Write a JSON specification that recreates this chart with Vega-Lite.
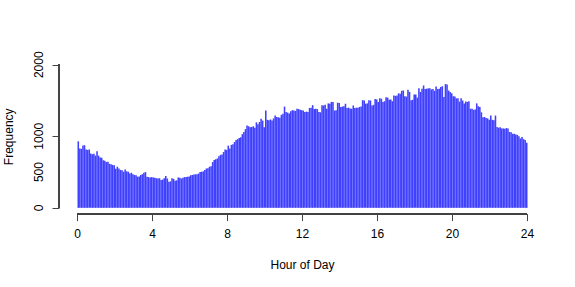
{
"$schema": "https://vega.github.io/schema/vega-lite/v6.json",
"width": 486, "height": 154.6,
"autosize": {"type": "none"},
"padding": {"left": 59, "top": 59, "right": 30, "bottom": 73.4},
"background": "white",
"config": {"view": {"stroke": null}, "font": "Liberation Sans"},
"data": {"values": [
{"m":0,"n":930},{"m":5,"n":830},{"m":10,"n":825},{"m":15,"n":870},{"m":20,"n":875},{"m":25,"n":815},{"m":30,"n":810},{"m":35,"n":815},{"m":40,"n":760},{"m":45,"n":750},{"m":50,"n":755},{"m":55,"n":730},
{"m":60,"n":790},{"m":65,"n":730},{"m":70,"n":705},{"m":75,"n":700},{"m":80,"n":665},{"m":85,"n":660},{"m":90,"n":640},{"m":95,"n":645},{"m":100,"n":615},{"m":105,"n":610},{"m":110,"n":600},{"m":115,"n":595},
{"m":120,"n":545},{"m":125,"n":575},{"m":130,"n":550},{"m":135,"n":530},{"m":140,"n":525},{"m":145,"n":505},{"m":150,"n":535},{"m":155,"n":510},{"m":160,"n":505},{"m":165,"n":480},{"m":170,"n":490},{"m":175,"n":470},
{"m":180,"n":460},{"m":185,"n":455},{"m":190,"n":435},{"m":195,"n":440},{"m":200,"n":460},{"m":205,"n":470},{"m":210,"n":490},{"m":215,"n":500},{"m":220,"n":435},{"m":225,"n":430},{"m":230,"n":425},{"m":235,"n":430},
{"m":240,"n":425},{"m":245,"n":420},{"m":250,"n":415},{"m":255,"n":410},{"m":260,"n":415},{"m":265,"n":390},{"m":270,"n":395},{"m":275,"n":415},{"m":280,"n":445},{"m":285,"n":410},{"m":290,"n":365},{"m":295,"n":370},
{"m":300,"n":415},{"m":305,"n":405},{"m":310,"n":380},{"m":315,"n":385},{"m":320,"n":425},{"m":325,"n":420},{"m":330,"n":410},{"m":335,"n":420},{"m":340,"n":430},{"m":345,"n":430},{"m":350,"n":435},{"m":355,"n":440},
{"m":360,"n":455},{"m":365,"n":460},{"m":370,"n":465},{"m":375,"n":470},{"m":380,"n":470},{"m":385,"n":480},{"m":390,"n":500},{"m":395,"n":505},{"m":400,"n":510},{"m":405,"n":530},{"m":410,"n":550},{"m":415,"n":555},
{"m":420,"n":575},{"m":425,"n":580},{"m":430,"n":640},{"m":435,"n":670},{"m":440,"n":680},{"m":445,"n":690},{"m":450,"n":720},{"m":455,"n":740},{"m":460,"n":745},{"m":465,"n":780},{"m":470,"n":815},{"m":475,"n":810},
{"m":480,"n":870},{"m":485,"n":830},{"m":490,"n":880},{"m":495,"n":890},{"m":500,"n":920},{"m":505,"n":950},{"m":510,"n":960},{"m":515,"n":975},{"m":520,"n":985},{"m":525,"n":1030},{"m":530,"n":1060},{"m":535,"n":1100},
{"m":540,"n":1150},{"m":545,"n":1140},{"m":550,"n":1125},{"m":555,"n":1130},{"m":560,"n":1140},{"m":565,"n":1120},{"m":570,"n":1195},{"m":575,"n":1170},{"m":580,"n":1200},{"m":585,"n":1245},{"m":590,"n":1220},{"m":595,"n":1125},
{"m":600,"n":1360},{"m":605,"n":1230},{"m":610,"n":1225},{"m":615,"n":1235},{"m":620,"n":1220},{"m":625,"n":1250},{"m":630,"n":1290},{"m":635,"n":1270},{"m":640,"n":1265},{"m":645,"n":1260},{"m":650,"n":1300},{"m":655,"n":1315},
{"m":660,"n":1415},{"m":665,"n":1340},{"m":670,"n":1330},{"m":675,"n":1320},{"m":680,"n":1350},{"m":685,"n":1365},{"m":690,"n":1360},{"m":695,"n":1355},{"m":700,"n":1385},{"m":705,"n":1380},{"m":710,"n":1370},{"m":715,"n":1365},
{"m":720,"n":1360},{"m":725,"n":1340},{"m":730,"n":1345},{"m":735,"n":1340},{"m":740,"n":1395},{"m":745,"n":1400},{"m":750,"n":1435},{"m":755,"n":1380},{"m":760,"n":1385},{"m":765,"n":1380},{"m":770,"n":1340},{"m":775,"n":1335},
{"m":780,"n":1435},{"m":785,"n":1430},{"m":790,"n":1440},{"m":795,"n":1385},{"m":800,"n":1460},{"m":805,"n":1455},{"m":810,"n":1480},{"m":815,"n":1480},{"m":820,"n":1360},{"m":825,"n":1365},{"m":830,"n":1470},{"m":835,"n":1465},
{"m":840,"n":1410},{"m":845,"n":1415},{"m":850,"n":1420},{"m":855,"n":1455},{"m":860,"n":1395},{"m":865,"n":1400},{"m":870,"n":1390},{"m":875,"n":1385},{"m":880,"n":1430},{"m":885,"n":1395},{"m":890,"n":1400},{"m":895,"n":1400},
{"m":900,"n":1410},{"m":905,"n":1415},{"m":910,"n":1505},{"m":915,"n":1500},{"m":920,"n":1455},{"m":925,"n":1460},{"m":930,"n":1505},{"m":935,"n":1500},{"m":940,"n":1430},{"m":945,"n":1440},{"m":950,"n":1520},{"m":955,"n":1515},
{"m":960,"n":1480},{"m":965,"n":1530},{"m":970,"n":1525},{"m":975,"n":1480},{"m":980,"n":1490},{"m":985,"n":1545},{"m":990,"n":1540},{"m":995,"n":1510},{"m":1000,"n":1515},{"m":1005,"n":1490},{"m":1010,"n":1570},{"m":1015,"n":1565},
{"m":1020,"n":1570},{"m":1025,"n":1600},{"m":1030,"n":1595},{"m":1035,"n":1635},{"m":1040,"n":1640},{"m":1045,"n":1560},{"m":1050,"n":1555},{"m":1055,"n":1650},{"m":1060,"n":1620},{"m":1065,"n":1505},{"m":1070,"n":1510},{"m":1075,"n":1585},
{"m":1080,"n":1585},{"m":1085,"n":1540},{"m":1090,"n":1670},{"m":1095,"n":1620},{"m":1100,"n":1665},{"m":1105,"n":1710},{"m":1110,"n":1660},{"m":1115,"n":1665},{"m":1120,"n":1670},{"m":1125,"n":1670},{"m":1130,"n":1655},{"m":1135,"n":1660},
{"m":1140,"n":1635},{"m":1145,"n":1695},{"m":1150,"n":1660},{"m":1155,"n":1665},{"m":1160,"n":1690},{"m":1165,"n":1700},{"m":1170,"n":1550},{"m":1175,"n":1730},{"m":1180,"n":1725},{"m":1185,"n":1640},{"m":1190,"n":1620},{"m":1195,"n":1600},
{"m":1200,"n":1560},{"m":1205,"n":1555},{"m":1210,"n":1530},{"m":1215,"n":1530},{"m":1220,"n":1485},{"m":1225,"n":1530},{"m":1230,"n":1500},{"m":1235,"n":1460},{"m":1240,"n":1485},{"m":1245,"n":1480},{"m":1250,"n":1490},{"m":1255,"n":1385},
{"m":1260,"n":1385},{"m":1265,"n":1370},{"m":1270,"n":1375},{"m":1275,"n":1460},{"m":1280,"n":1420},{"m":1285,"n":1410},{"m":1290,"n":1335},{"m":1295,"n":1265},{"m":1300,"n":1270},{"m":1305,"n":1255},{"m":1310,"n":1250},{"m":1315,"n":1230},
{"m":1320,"n":1290},{"m":1325,"n":1230},{"m":1330,"n":1225},{"m":1335,"n":1290},{"m":1340,"n":1130},{"m":1345,"n":1120},{"m":1350,"n":1125},{"m":1355,"n":1110},{"m":1360,"n":1110},{"m":1365,"n":1105},{"m":1370,"n":1115},{"m":1375,"n":1110},
{"m":1380,"n":1060},{"m":1385,"n":1055},{"m":1390,"n":1035},{"m":1395,"n":1035},{"m":1400,"n":1025},{"m":1405,"n":1020},{"m":1410,"n":1000},{"m":1415,"n":970},{"m":1420,"n":990},{"m":1425,"n":960},{"m":1430,"n":950},{"m":1435,"n":910}
]},
"layer": [
{
"mark": {"type": "bar", "color": "#4040FF", "binSpacing": 0, "stroke": null},
"encoding": {
"x": {"field": "m", "type": "quantitative", "bin": {"binned": true, "step": 5},
"scale": {"domain": [-57.6, 1497.6], "nice": false, "zero": false},
"axis": {"title": "Hour of Day", "values": [0, 240, 480, 720, 960, 1200, 1440],
"labelExpr": "datum.value / 60", "domain": false, "grid": false,
"ticks": true, "tickSize": 7, "tickColor": "#444", "tickWidth": 1,
"labelFont": "Liberation Sans", "labelFontSize": 12, "labelColor": "black",
"labelBaseline": "top", "labelPadding": 8, "labelFlush": false, "labelOverlap": false,
"titleFont": "Liberation Sans", "titleFontSize": 12, "titleFontWeight": "normal", "titleColor": "black",
"titleBaseline": "alphabetic", "titleY": 54.4, "titleX": 243}},
"y": {"field": "n", "type": "quantitative",
"scale": {"domain": [-80, 2080], "nice": false, "zero": false},
"axis": {"title": "Frequency", "values": [0, 500, 1000, 1500, 2000],
"labels": false, "domain": false, "grid": false,
"ticks": true, "tickSize": 7, "tickColor": "#444", "tickWidth": 1,
"titleFont": "Liberation Sans", "titleFontSize": 12, "titleFontWeight": "normal", "titleColor": "black",
"titleAngle": 270, "titleBaseline": "alphabetic", "titleAlign": "center", "titleX": -46.5, "titleY": 77.3}}
}
},
{
"data": {"values": [{"v": 0}, {"v": 500}, {"v": 1000}, {"v": 2000}]},
"mark": {"type": "text", "angle": 270, "align": "center", "baseline": "alphabetic", "dy": -16.4,
"font": "Liberation Sans", "fontSize": 12, "color": "black"},
"encoding": {
"x": {"datum": -57.6, "type": "quantitative"},
"y": {"field": "v", "type": "quantitative", "scale": {"domain": [-80, 2080], "nice": false, "zero": false}},
"text": {"field": "v", "type": "quantitative", "format": "d"}
}
},
{
"mark": {"type": "rule", "color": "#444", "strokeWidth": 1},
"encoding": {"x": {"datum": 0}, "x2": {"datum": 1440}, "y": {"datum": -80}}
},
{
"mark": {"type": "rule", "color": "#444", "strokeWidth": 1},
"encoding": {"x": {"datum": -57.6}, "y": {"datum": 0}, "y2": {"datum": 2000}}
}
]
}
